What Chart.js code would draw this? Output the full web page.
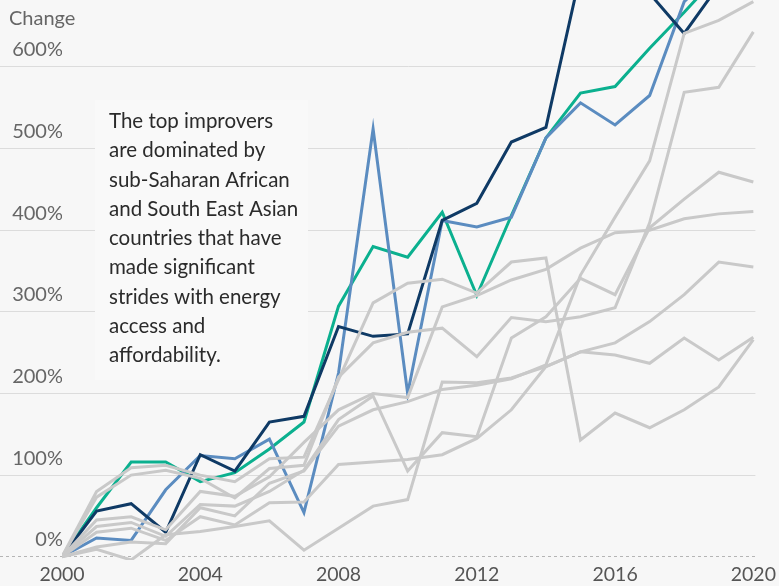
<!DOCTYPE html>
<html>
<head>
<meta charset="utf-8">
<script src="https://cdn.jsdelivr.net/npm/chart.js@4.4.1/dist/chart.umd.min.js"></script>
<style>
  html, body { margin: 0; padding: 0; background: #f7f7f7; }
  #wrap { width: 779px; height: 586px; }
</style>
</head>
<body>
<div id="wrap"><canvas id="chart"></canvas></div>
<script>
// values (% change since 2000)
const years = [2000, 2001, 2002, 2003, 2004, 2005, 2006, 2007, 2008, 2009, 2010,
               2011, 2012, 2013, 2014, 2015, 2016, 2017, 2018, 2019, 2020];
const xTicks = [2000, 2004, 2008, 2012, 2016, 2020];
const yTicks = [0, 100, 200, 300, 400, 500, 600];

const navy = [0, 56, 65, 30, 125, 105, 165, 172, 282, 270, 273, 412, 433, 508, 526, 715, 745, 690, 641, 700, 740];
const blue = [0, 23, 20, 82, 124, 120, 144, 54, 225, 524, 200, 412, 404, 416, 513, 556, 529, 565, 680, 720, 760];
const teal = [0, 60, 116, 116, 92, 103, 132, 165, 307, 380, 367, 422, 320, 418, 513, 568, 576, 623, 667, 713, 750];

const grayA = [0, 12, 18, 16, 60, 50, 90, 105, 160, 180, 190, 205, 210, 218, 235, 345, 416, 485, 641, 657, 680];
const grayB = [0, 73, 100, 106, 96, 72, 108, 112, 220, 262, 275, 280, 245, 293, 288, 294, 305, 409, 569, 575, 643];
const grayC = [0, 37, 42, 25, 64, 62, 80, 106, 168, 197, 105, 152, 147, 268, 294, 341, 321, 403, 438, 471, 459];
const grayD = [0, 45, 49, 33, 80, 74, 98, 140, 180, 200, 195, 306, 320, 339, 352, 378, 397, 400, 414, 420, 423];
const grayE = [0, 30, 35, 20, 49, 39, 66, 67, 113, 116, 119, 125, 145, 180, 233, 251, 262, 288, 321, 361, 355];
const grayF = [0, 9, -4, 27, 31, 37, 44, 8, 35, 62, 70, 214, 213, 219, 233, 251, 247, 237, 268, 241, 269];
const grayG = [0, 80, 109, 112, 100, 92, 120, 122, 217, 311, 335, 340, 323, 361, 366, 143, 176, 158, 180, 208, 266];

const note = ["The top improvers", "are dominated by", "sub-Saharan African",
              "and South East Asian", "countries that have", "made significant",
              "strides with energy", "access and", "affordability."];

const FONT = "Lato, 'Open Sans', sans-serif";
const GRAY = "#c9c9c9";

function line(values, color) {
  return { data: values, borderColor: color, borderWidth: 3, pointRadius: 0, tension: 0, fill: false };
}

const datasets = [grayA, grayB, grayC, grayD, grayE, grayF, grayG].map(v => line(v, GRAY));
datasets.push(line(navy, "#0f3a65"));
datasets.push(line(blue, "#5b8cc0"));
datasets.push(line(teal, "#0bb08f"));

const extras = {
  id: "extras",
  beforeDatasetsDraw(chart) {
    const ctx = chart.ctx;
    ctx.save();
    ctx.fillStyle = "#f9f9f9";
    ctx.fillRect(95, 100, 213, 280);
    ctx.fillStyle = "#2b2b2b";
    ctx.font = "20.5px " + FONT;
    ctx.textBaseline = "alphabetic";
    ctx.textAlign = "left";
    note.forEach((t, i) => ctx.fillText(t, 109, 128 + i * 29.25));
    ctx.restore();
  },
  afterDraw(chart) {
    const ctx = chart.ctx;
    ctx.save();
    ctx.fillStyle = "#666";
    ctx.font = "20px " + FONT;
    ctx.textBaseline = "alphabetic";
    ctx.fillText("Change", 9, 25);
    ctx.restore();
  }
};

new Chart(document.getElementById("chart"), {
  type: "line",
  data: { labels: years, datasets: datasets },
  plugins: [extras],
  options: {
    responsive: true,
    maintainAspectRatio: false,
    animation: false,
    layout: { padding: { top: 0, right: 16, bottom: 0, left: 0 } },
    plugins: { legend: { display: false }, tooltip: { enabled: false } },
    scales: {
      x: {
        type: "linear",
        min: 2000,
        max: 2020.06,
        afterBuildTicks: s => { s.ticks = xTicks.map(v => ({ value: v })); },
        afterFit: s => { s.height = 26; },
        grid: { display: false, drawTicks: false },
        border: { display: false },
        ticks: { color: "#555", font: { family: FONT, size: 19.5 }, padding: 3, maxRotation: 0,
                 callback: v => String(v) }
      },
      y: {
        min: -4,
        max: 682,
        afterBuildTicks: s => { s.ticks = yTicks.map(v => ({ value: v })); },
        afterFit: s => { s.width = 62; },
        grid: {
          color: c => c.tick && c.tick.value === 0 ? "#b5b5b5" : "#dcdcdc",
          lineWidth: 1,
          drawTicks: true,
          tickLength: 62,
          tickBorderDash: c => c.tick && c.tick.value === 0 ? [3, 3] : []
        },
        border: { display: false, dash: c => c.tick && c.tick.value === 0 ? [3, 3] : [] },
        ticks: {
          color: "#666",
          font: { family: FONT, size: 20 },
          padding: -63,
          labelOffset: -17,
          callback: v => v + "%"
        }
      }
    }
  }
});
</script>
</body>
</html>
